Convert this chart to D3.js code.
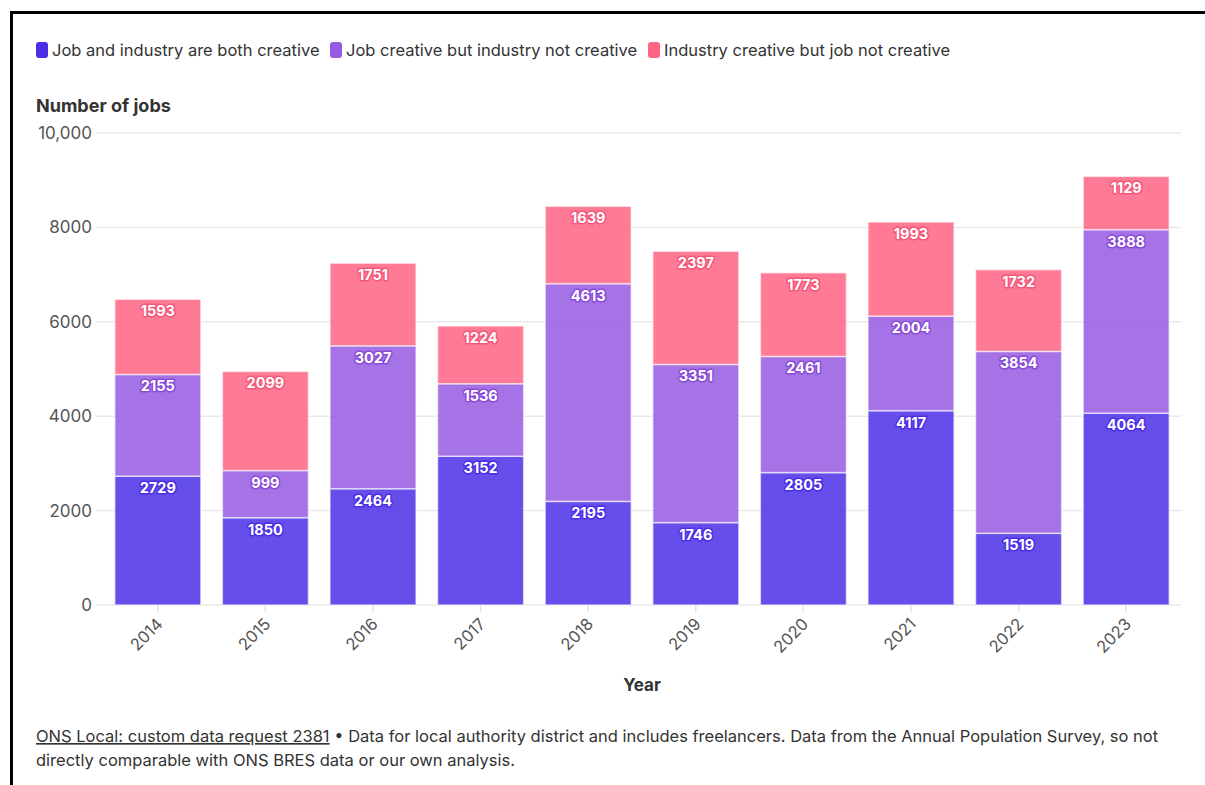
<!DOCTYPE html>
<html>
<head>
<meta charset="utf-8">
<script src="https://cdn.jsdelivr.net/npm/d3@7"></script>
<style>
    body { margin: 0; background: #fff; font-family: Inter, "Open Sans", sans-serif; }
    #frame {
        position: absolute; left: 10px; top: 11px; width: 1220px; height: 800px;
        border-left: 3px solid #000; border-top: 3px solid #000;
    }
    svg { position: absolute; left: 0; top: 0; }
</style>
</head>
<body>
<div id="frame"></div>
<div id="chart"></div>
<script>
// chart data
let years = ["2014", "2015", "2016", "2017", "2018", "2019", "2020", "2021", "2022", "2023"];
let bothCreative = [2729, 1850, 2464, 3152, 2195, 1746, 2805, 4117, 1519, 4064];
let jobOnly = [2155, 999, 3027, 1536, 4613, 3351, 2461, 2004, 3854, 3888];
let industryOnly = [1593, 2099, 1751, 1224, 1639, 2397, 1773, 1993, 1732, 1129];
let seriesNames = ["Job and industry are both creative", "Job creative but industry not creative", "Industry creative but job not creative"];
let yTicks = [0, 2000, 4000, 6000, 8000, 10000];

let colors = ["#4a2fe6", "#975ae2", "#ff6482"];
let haloColors = ["#4a2fe6", "#8a4bd8", "#f5577a"];

let width = 1205, height = 785;
let margin = {top: 133, right: 25, bottom: 180, left: 104};

let svg = d3.select("#chart").append("svg")
    .attr("width", width)
    .attr("height", height);

// build rows for the stack
let rows = years.map((y, i) => ({year: y, s0: bothCreative[i], s1: jobOnly[i], s2: industryOnly[i]}));
let stack = d3.stack().keys(["s0", "s1", "s2"]);
let layers = stack(rows);

let x = d3.scaleBand()
    .domain(years)
    .range([margin.left, width - margin.right])
    .paddingInner(0.2)
    .paddingOuter(0.1);

let y = d3.scaleLinear()
    .domain([0, 10000])
    .range([height - margin.bottom + 0, margin.top]);

// legend
let legendX = [36, 330, 648];
let legend = svg.append("g");
seriesNames.forEach((name, i) => {
    legend.append("rect")
        .attr("x", legendX[i]).attr("y", 42)
        .attr("width", 12).attr("height", 16)
        .attr("rx", 3)
        .attr("fill", colors[i]);
    legend.append("text")
        .attr("x", legendX[i] + 16).attr("y", 56)
        .attr("font-size", 16.5)
        .attr("fill", "#333")
        .text(name);
});

// y title
svg.append("text")
    .attr("x", 36).attr("y", 112)
    .attr("font-size", 18)
    .attr("font-weight", 700)
    .attr("fill", "#333")
    .text("Number of jobs");

// grid + y labels
let fmt = d => d >= 10000 ? d3.format(",")(d) : d;
let grid = svg.append("g");
grid.selectAll("line")
    .data(yTicks)
    .enter().append("line")
    .attr("x1", 96).attr("x2", 1181)
    .attr("y1", d => y(d)).attr("y2", d => y(d))
    .attr("stroke", "#e9e9e9")
    .attr("stroke-width", 1.5);
grid.selectAll("text")
    .data(yTicks)
    .enter().append("text")
    .attr("x", 92).attr("y", d => y(d) + 6)
    .attr("text-anchor", "end")
    .attr("font-size", 17)
    .attr("fill", "#555")
    .text(fmt);

// bars
let barG = svg.append("g");
layers.forEach((layer, k) => {
    barG.append("g")
        .selectAll("rect")
        .data(layer)
        .enter().append("rect")
        .attr("x", d => x(d.data.year))
        .attr("width", x.bandwidth())
        .attr("y", d => y(d[1]))
        .attr("height", d => y(d[0]) - y(d[1]))
        .attr("fill", colors[k])
        .attr("fill-opacity", 0.85)
        .attr("stroke", "#fff")
        .attr("stroke-opacity", 0.6)
        .attr("stroke-width", 1.5);
});

// value labels
layers.forEach((layer, k) => {
    barG.append("g")
        .selectAll("text")
        .data(layer)
        .enter().append("text")
        .attr("x", d => x(d.data.year) + x.bandwidth() / 2)
        .attr("y", d => y(d[1]) + 17)
        .attr("text-anchor", "middle")
        .attr("font-size", 14.5)
        .attr("font-weight", 700)
        .attr("fill", "#fff")
        .attr("stroke", haloColors[k])
        .attr("stroke-width", 3)
        .attr("stroke-linejoin", "round")
        .attr("paint-order", "stroke")
        .text(d => d[1] - d[0]);
});

// x axis
let xAxis = svg.append("g")
    .attr("transform", `translate(0, ${y(0)})`)
    .call(d3.axisBottom(x).tickSize(7).tickSizeOuter(0));
xAxis.select(".domain").remove();
xAxis.selectAll(".tick line").attr("stroke", "#e3e3e3").attr("stroke-width", 1.5);
xAxis.selectAll(".tick text")
    .attr("font-family", "Inter, sans-serif")
    .attr("font-size", 16.5)
    .attr("fill", "#555")
    .attr("text-anchor", "end")
    .attr("y", 0)
    .attr("dx", "0")
    .attr("dy", "0.35em")
    .attr("transform", "translate(2, 16) rotate(-45)");

svg.append("text")
    .attr("x", 642).attr("y", 691)
    .attr("text-anchor", "middle")
    .attr("font-size", 17)
    .attr("font-weight", 700)
    .attr("fill", "#333")
    .text("Year");

// footer
let foot = svg.append("text")
    .attr("x", 36).attr("y", 742)
    .attr("font-size", 16.5)
    .attr("fill", "#333");
foot.append("tspan")
    .attr("text-decoration", "underline")
    .text("ONS Local: custom data request 2381");
foot.append("tspan")
    .text(" \u2022 Data for local authority district and includes freelancers. Data from the Annual Population Survey, so not");
svg.append("text")
    .attr("x", 36).attr("y", 766)
    .attr("font-size", 16.5)
    .attr("fill", "#333")
    .text("directly comparable with ONS BRES data or our own analysis.");
</script>
</body>
</html>
